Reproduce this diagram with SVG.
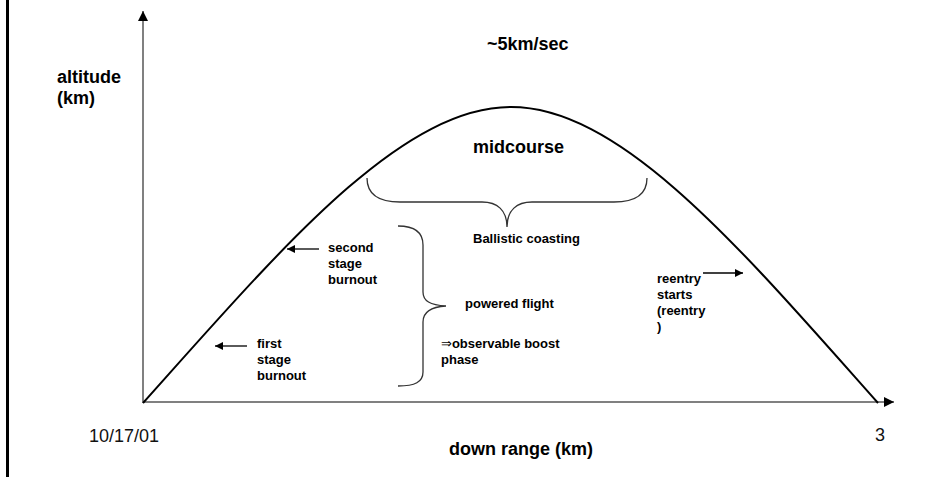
<svg xmlns="http://www.w3.org/2000/svg" width="952" height="477" viewBox="0 0 952 477">
  <style>
    .bold { font-family: "Liberation Sans", Arial, sans-serif; font-weight: bold; fill: #000; }
    .big { font-size: 18px; }
    .small { font-size: 13px; }
    .plain { font-family: "Liberation Sans", Arial, sans-serif; font-size: 18px; fill: #111; }
    .axis { stroke: #808080; stroke-width: 2; fill: none; }
    .curve { stroke: #000; stroke-width: 2; fill: none; }
    .brace { stroke: #333; stroke-width: 1.3; fill: none; }
    .pointer { stroke: #000; stroke-width: 1.3; fill: none; }
  </style>
  <defs>
    <marker id="head" viewBox="0 0 10 10" refX="10" refY="5" markerWidth="10" markerHeight="10" markerUnits="userSpaceOnUse" orient="auto">
      <path d="M0,0 L10,5 L0,10 Z" fill="#000"/>
    </marker>
    <marker id="smallhead" viewBox="0 0 10 10" refX="10" refY="5" markerWidth="9" markerHeight="8" markerUnits="userSpaceOnUse" orient="auto">
      <path d="M0,0 L10,5 L0,10 Z" fill="#000"/>
    </marker>
  </defs>

  <rect width="952" height="477" fill="#fff"/>

  <!-- page edge -->
  <line x1="7.5" y1="0" x2="7.5" y2="477" stroke="#000" stroke-width="3"/>

  <g id="connectors">
    <!-- axes -->
    <line class="axis" x1="143" y1="403" x2="143" y2="11" marker-end="url(#head)"/>
    <line class="axis" x1="143" y1="402" x2="894" y2="402" marker-end="url(#head)"/>
    <!-- trajectory -->
    <path class="curve" d="M143,403 C280,250 400,107 511,107 C622,107 742,250 878,403"/>
    <!-- pointer arrows -->
    <line class="pointer" x1="319" y1="249" x2="287" y2="249" marker-end="url(#smallhead)"/>
    <line class="pointer" x1="247" y1="346" x2="215" y2="346" marker-end="url(#smallhead)"/>
    <line class="pointer" x1="703" y1="273" x2="743" y2="273" marker-end="url(#smallhead)"/>
  </g>

  <g id="ballistic-brace">
    <path class="brace" d="M367,178 C367,195 380,202 400,202 L482,202 C497,202 507,210 507,227 C507,210 517,202 532,202 L614,202 C634,202 647,195 647,178"/>
  </g>

  <g id="powered-brace">
    <path class="brace" d="M398,226 C415,226 423,232 423,245 L423,292 C423,301 430,305 446,306 C430,307 423,312 423,322 L423,372 C423,382 415,386 398,386"/>
  </g>

  <g id="axis-labels">
    <text class="bold big" x="57" y="83">altitude</text>
    <text class="bold big" x="57" y="104">(km)</text>
    <text class="bold big" x="449" y="455">down range (km)</text>
  </g>

  <g id="speed">
    <text class="bold big" x="487" y="50">~5km/sec</text>
  </g>

  <g id="midcourse">
    <text class="bold big" x="473" y="153">midcourse</text>
  </g>

  <g id="ballistic-coasting">
    <text class="bold small" x="473" y="243">Ballistic coasting</text>
  </g>

  <g id="second-stage">
    <text class="bold small" x="328" y="252">second</text>
    <text class="bold small" x="328" y="268">stage</text>
    <text class="bold small" x="328" y="284">burnout</text>
  </g>

  <g id="first-stage">
    <text class="bold small" x="257" y="348">first</text>
    <text class="bold small" x="257" y="364">stage</text>
    <text class="bold small" x="257" y="380">burnout</text>
  </g>

  <g id="powered-flight">
    <text class="bold small" x="465" y="308">powered flight</text>
    <text class="bold small" x="441" y="348"><tspan font-family="'DejaVu Sans', sans-serif" font-weight="normal">⇒</tspan>observable boost</text>
    <text class="bold small" x="441" y="364">phase</text>
  </g>

  <g id="reentry">
    <text class="bold small" x="657" y="283">reentry</text>
    <text class="bold small" x="657" y="299">starts</text>
    <text class="bold small" x="657" y="315">(reentry</text>
    <text class="bold small" x="657" y="331" font-weight="normal">)</text>
  </g>

  <g id="footer">
    <text class="plain" x="89" y="442">10/17/01</text>
    <text class="plain" x="875" y="441">3</text>
  </g>
</svg>
